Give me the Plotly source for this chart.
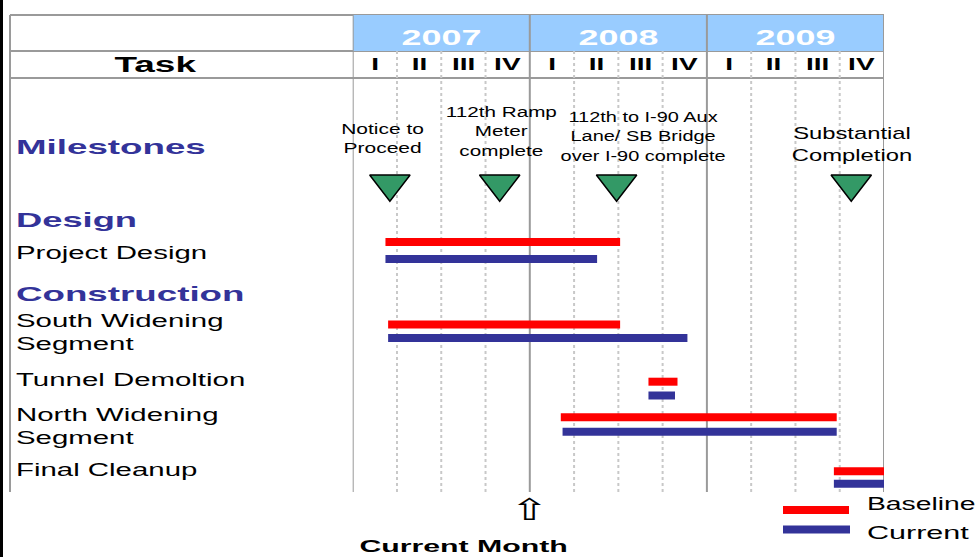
import json
import plotly.graph_objects as go

# ---------------- data ----------------
years = [2007, 2008, 2009]
quarter_labels = ["I", "II", "III", "IV"]

milestone_names = [
    "Notice to<br>Proceed",
    "112th Ramp<br>Meter<br>complete",
    "112th to I-90 Aux<br>Lane/ SB Bridge<br>over I-90 complete",
    "Substantial<br>Completion",
]
milestone_dates = [2007.21, 2007.83, 2008.49, 2009.815]

tasks = [
    "Project Design",
    "South Widening<br>Segment",
    "Tunnel Demoltion",
    "North Widening<br>Segment",
    "Final Cleanup",
]
baseline_start = [2007.185, 2007.20, 2008.67, 2008.175, 2009.717]
baseline_end = [2008.51, 2008.51, 2008.834, 2009.733, 2010.0]
current_start = [2007.185, 2007.20, 2008.67, 2008.185, 2009.717]
current_end = [2008.38, 2008.89, 2008.82, 2009.733, 2010.0]

current_month = 2008.0
legend_names = ["Baseline", "Current"]

# ---------------- layout / style ----------------
W, H = 978, 557
FONT = "Liberation Sans, Arial, sans-serif"
NAVY = "#333399"
RED = "#FF0000"
GREEN = "#339966"
HEADER = "#99CCFF"
LINE_DARK = "#9a9a9a"
LINE_LIGHT = "#c8c8c8"

X0_PX, X1_PX = 352.7, 884.0
LEFT_PX = 10
LABEL_PX = 14
TOP, YEAR_BOT, HEAD_BOT, BODY_BOT = 15, 51, 78, 492

row_y_baseline = [242, 324.5, 381.7, 417.3, 471.3]
row_y_current = [259, 338, 395.5, 431.8, 483.8]
row_label_y = [253, 332.7, 380, 426, 470]
milestone_y = 183.75
milestone_label_y = [138.7, 130.7, 136, 144]
milestone_label_size = [15, 15, 15, 17]
milestone_label_shift = [-7, 2, 26, 1]
milestone_label_scale = [1.4, 1.38, 1.33, 1.4]

x_start = years[0]
x_end = years[-1] + 1


def px(v):
    return v / W


fig = go.Figure()

fig.add_trace(go.Bar(
    orientation="h", y=row_y_baseline,
    x=[e - s for s, e in zip(baseline_start, baseline_end)], base=baseline_start,
    width=8, marker=dict(color=RED, line=dict(width=0)), name=legend_names[0],
    showlegend=False, hoverinfo="skip"))
fig.add_trace(go.Bar(
    orientation="h", y=row_y_current,
    x=[e - s for s, e in zip(current_start, current_end)], base=current_start,
    width=8, marker=dict(color=NAVY, line=dict(width=0)), name=legend_names[1],
    showlegend=False, hoverinfo="skip"))
fig.add_trace(go.Scatter(
    x=milestone_dates, y=[milestone_y] * len(milestone_dates), mode="markers",
    marker=dict(symbol="triangle-down", size=35, color=GREEN,
                line=dict(color="black", width=1.5)),
    showlegend=False, hoverinfo="skip"))

shapes = []
# black strip at left edge
shapes.append(dict(type="rect", xref="paper", yref="y", x0=0, x1=px(3), y0=0, y1=H,
                   fillcolor="black", line=dict(width=0), layer="below"))
# year header fill
shapes.append(dict(type="rect", xref="x", yref="y", x0=x_start, x1=x_end, y0=TOP, y1=YEAR_BOT,
                   fillcolor=HEADER, line=dict(width=0), layer="below"))
# quarter lines
for yr in years:
    for q in range(1, 4):
        xv = yr + q / 4
        shapes.append(dict(type="line", xref="x", yref="y", x0=xv, x1=xv, y0=YEAR_BOT, y1=BODY_BOT,
                           line=dict(color=LINE_LIGHT, width=2, dash="dot"), layer="below"))
# year lines (including column boundary and right border)
for xv in years + [x_end]:
    shapes.append(dict(type="line", xref="x", yref="y", x0=xv, x1=xv, y0=TOP, y1=BODY_BOT,
                       line=dict(color=LINE_DARK, width=2), layer="below"))
# left border
shapes.append(dict(type="line", xref="paper", yref="y", x0=px(LEFT_PX), x1=px(LEFT_PX), y0=TOP, y1=BODY_BOT,
                   line=dict(color=LINE_DARK, width=2), layer="below"))
# horizontal header lines
for yv in [TOP, YEAR_BOT, HEAD_BOT]:
    shapes.append(dict(type="line", xref="paper", yref="y", x0=px(LEFT_PX), x1=px(X1_PX), y0=yv, y1=yv,
                       line=dict(color=LINE_DARK, width=2), layer="below"))
# legend keys
shapes.append(dict(type="rect", xref="paper", yref="y", x0=px(783), x1=px(849), y0=506, y1=514,
                   fillcolor=RED, line=dict(width=0)))
shapes.append(dict(type="rect", xref="paper", yref="y", x0=px(783), x1=px(850), y0=525.5, y1=533.5,
                   fillcolor=NAVY, line=dict(width=0)))

annotations = []
scales = []


def add(text, x, y, size, scale=1.0, xref="paper", color="black", bold=False,
        xanchor="center", align="center", family=FONT, xshift=0):
    annotations.append(dict(
        text=text, x=x, y=y, xref=xref, yref="y", showarrow=False,
        xanchor=xanchor, yanchor="middle", align=align, xshift=xshift,
        font=dict(family=family, size=size, color=color, weight="bold" if bold else "normal")))
    scales.append(scale)


# header texts
add("Task", px(155), 64.7, 22, 1.68, bold=True)
for yr in years:
    add(str(yr), yr + 0.5, 37, 22, 1.63, xref="x", color="white", bold=True)
    for qi, ql in enumerate(quarter_labels):
        add(ql, yr + (qi + 0.5) / 4, 64.5, 16, 1.75, xref="x", bold=True)

# left column
add("Milestones", px(LABEL_PX), 146, 21, 1.75, color=NAVY, bold=True, xanchor="left", align="left")
add("Design", px(LABEL_PX), 219.5, 21, 1.73, color=NAVY, bold=True, xanchor="left", align="left")
add("Construction", px(LABEL_PX), 293, 21, 1.75, color=NAVY, bold=True, xanchor="left", align="left")
for name, yv in zip(tasks, row_label_y):
    add(name, px(LABEL_PX), yv, 17.5, 1.68, xanchor="left", align="left")

# milestone labels
for name, d, yv, sz, sh, sc in zip(milestone_names, milestone_dates, milestone_label_y,
                                   milestone_label_size, milestone_label_shift, milestone_label_scale):
    add(name, d, yv, sz, sc, xref="x", xshift=sh)

# current month
add("\u21e7", current_month, 509, 30, 1.55, xref="x", family="DejaVu Sans")
add("Current Month", px(463), 546, 17, 1.78, bold=True)

# legend texts
add(legend_names[0], px(865), 503, 18.5, 1.53, xanchor="left", align="left")
add(legend_names[1], px(865), 532, 18.5, 1.65, xanchor="left", align="left")

fig.update_layout(
    width=W, height=H, margin=dict(l=0, r=0, t=0, b=0),
    paper_bgcolor="white", plot_bgcolor="white",
    barmode="overlay", showlegend=False,
    xaxis=dict(range=[x_start, x_end], domain=[px(X0_PX), px(X1_PX)], visible=False, fixedrange=True),
    yaxis=dict(range=[H, 0], domain=[0, 1], visible=False, fixedrange=True),
    shapes=shapes, annotations=annotations,
    font=dict(family=FONT),
)

post = """
document.body.style.margin = '0';
document.body.style.overflow = 'hidden';
var gd = document.getElementById('{plot_id}');
var S = %s;
function fx(){
  var gs = gd.querySelectorAll('g.annotation');
  for (var k = 0; k < gs.length; k++) {
    var g = gs[k];
    var i = parseInt(g.getAttribute('data-index'));
    var s = S[i];
    if (!s || s === 1) continue;
    var t = g.querySelector('text.annotation-text');
    if (!t) continue;
    var a = t.getAttribute('text-anchor');
    t.style.transformBox = 'fill-box';
    t.style.transformOrigin = (a === 'start' ? 'left' : (a === 'end' ? 'right' : 'center')) + ' center';
    t.style.transform = 'scaleX(' + s + ')';
  }
}
fx();
if (gd.on) { gd.on('plotly_afterplot', fx); }
""" % json.dumps(scales)

fig.write_html("out.html", config={"displayModeBar": False}, post_script=post)
